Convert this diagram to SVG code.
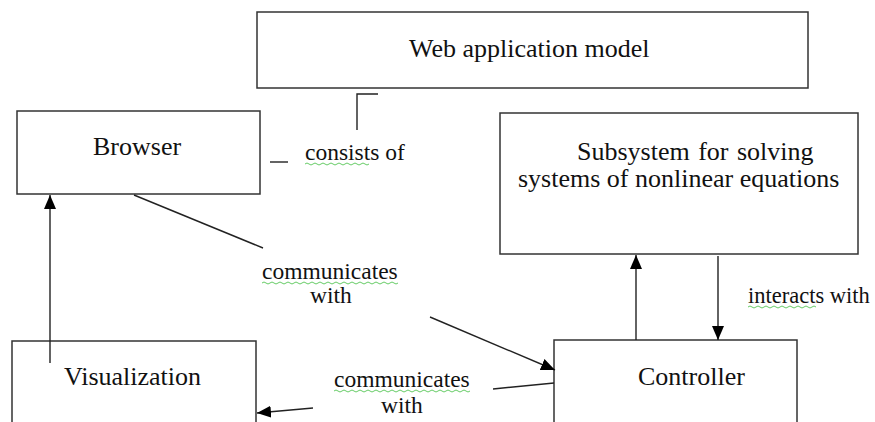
<svg xmlns="http://www.w3.org/2000/svg" width="875" height="422" viewBox="0 0 875 422">
<style>
.box{fill:#fff;stroke:#333;stroke-width:1.5}
.ln{fill:none;stroke:#222;stroke-width:1.4}
.sq{fill:none;stroke:#6c6;stroke-width:1}
.bt{font-family:'Liberation Serif','Times New Roman',serif;font-size:26px;fill:#111}
.lt{font-family:'Liberation Serif','Times New Roman',serif;font-size:23.5px;fill:#111}
</style>
<defs>
<marker id="ah" markerUnits="userSpaceOnUse" markerWidth="14" markerHeight="12" refX="14" refY="6" orient="auto" viewBox="0 0 14 12">
<path d="M0,0 L14,6 L0,12 z" fill="#000"/>
</marker>
</defs>
<rect width="875" height="422" fill="#fff"/>
<g id="web-model">
<rect class="box" x="257" y="12" width="551" height="76"/>
<text class="bt" x="409" y="57">Web application model</text>
</g>
<g id="browser">
<rect class="box" x="17" y="111" width="243" height="83"/>
<text class="bt" x="93" y="155">Browser</text>
</g>
<g id="subsystem">
<rect class="box" x="500" y="113" width="358" height="141"/>
<text class="bt" x="577" y="160" word-spacing="2">Subsystem for solving</text>
<text class="bt" x="518" y="187">systems of nonlinear equations</text>
</g>
<g id="visualization">
<rect class="box" x="12" y="341" width="244" height="100"/>
<text class="bt" x="64" y="385">Visualization</text>
</g>
<g id="controller">
<rect class="box" x="554" y="340" width="243" height="100"/>
<text class="bt" x="638" y="385">Controller</text>
</g>
<g id="connectors">
<path class="ln" d="M357,130 V94 H378"/>
<path class="ln" d="M270,162 H288"/>
<path class="ln" d="M134,195 L263,248"/>
<path class="ln" d="M430,317 L555,370" marker-end="url(#ah)"/>
<path class="ln" d="M50,363 V195" marker-end="url(#ah)"/>
<path class="ln" d="M636,340 V255" marker-end="url(#ah)"/>
<path class="ln" d="M718,256 V340" marker-end="url(#ah)"/>
<path class="ln" d="M554,383 L493,389"/>
<path class="ln" d="M313,408 L257,413" marker-end="url(#ah)"/>
</g>
<g id="labels">
<text class="lt" x="305" y="160">consists of</text>
<path class="sq" d="M305,164 q2,-2 4,0 t4,0 t4,0 t4,0 t4,0 t4,0 t4,0 t4,0 t4,0 t4,0 t4,0 t4,0 t4,0 t4,0 t4,0 t4,0"/>
<text class="lt" x="262" y="279">communicates</text>
<path class="sq" d="M262,283 q2,-2 4,0 t4,0 t4,0 t4,0 t4,0 t4,0 t4,0 t4,0 t4,0 t4,0 t4,0 t4,0 t4,0 t4,0 t4,0 t4,0 t4,0 t4,0 t4,0 t4,0 t4,0 t4,0 t4,0 t4,0 t4,0 t4,0 t4,0 t4,0 t4,0 t4,0 t4,0 t4,0 t4,0 t4,0"/>
<text class="lt" x="310" y="303">with</text>
<text class="lt" x="748" y="303" font-size="22.5" style="font-size:22.5px">interacts with</text>
<path class="sq" d="M748,307 q2,-2 4,0 t4,0 t4,0 t4,0 t4,0 t4,0 t4,0 t4,0 t4,0 t4,0 t4,0 t4,0 t4,0 t4,0 t4,0 t4,0 t4,0"/>
<text class="lt" x="334" y="387">communicates</text>
<path class="sq" d="M334,391 q2,-2 4,0 t4,0 t4,0 t4,0 t4,0 t4,0 t4,0 t4,0 t4,0 t4,0 t4,0 t4,0 t4,0 t4,0 t4,0 t4,0 t4,0 t4,0 t4,0 t4,0 t4,0 t4,0 t4,0 t4,0 t4,0 t4,0 t4,0 t4,0 t4,0 t4,0 t4,0 t4,0 t4,0 t4,0"/>
<text class="lt" x="381" y="413">with</text>
</g>
</svg>
